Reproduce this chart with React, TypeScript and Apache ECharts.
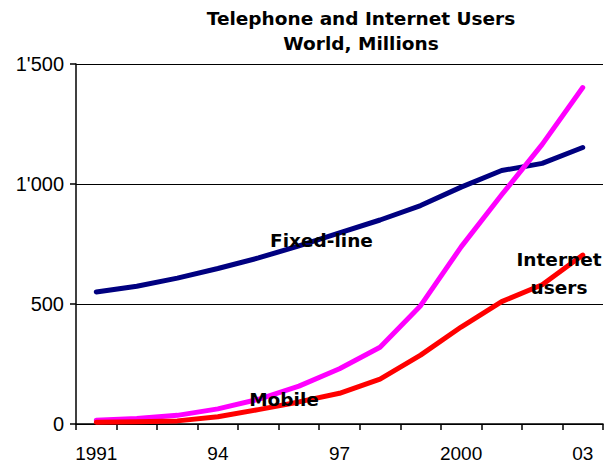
import React, { useEffect, useRef } from "react";
import * as echarts from "echarts";

const years = ["1991", "1992", "1993", "1994", "1995", "1996", "1997", "1998", "1999", "2000", "2001", "2002", "2003"];
const xTickLabels = ["1991", "", "", "94", "", "", "97", "", "", "2000", "", "", "03"];
const fixedLine = [550, 574, 608, 648, 692, 742, 796, 850, 910, 987, 1056, 1086, 1152];
const mobile = [16, 23, 36, 63, 103, 158, 230, 320, 493, 738, 955, 1165, 1402];
const internetUsers = [7, 9, 13, 30, 60, 92, 128, 187, 287, 404, 510, 580, 704];
const yTickValues = [0, 500, 1000, 1500];
const yTickLabels = ["0", "500", "1'000", "1'500"];
const titleText = "Telephone and Internet Users\nWorld, Millions";
const seriesNames = ["Fixed-line", "Mobile", "Internet users"];

export default function App() {
  const ref = useRef<HTMLDivElement>(null);
  useEffect(() => {
    if (!ref.current) return;
    const chart = echarts.init(ref.current, null, { renderer: "svg" });
    const boldText = { fontFamily: "DejaVu Sans", fontWeight: "bold", fontSize: 18.5, fill: "#000" };
    chart.setOption({
      animation: false,
      backgroundColor: "#fff",
      title: {
        text: titleText,
        left: 361,
        top: 6,
        padding: 0,
        textAlign: "center",
        textStyle: { fontFamily: "DejaVu Sans", fontWeight: "bold", fontSize: 18.5, lineHeight: 25, color: "#000" },
      },
      grid: { left: 76, right: 8, top: 64, bottom: 44, containLabel: false },
      xAxis: {
        type: "category",
        data: years,
        boundaryGap: true,
        axisLine: { lineStyle: { color: "#000", width: 1.5 } },
        axisTick: { show: true, interval: 0, length: 6, lineStyle: { color: "#000", width: 1.5 } },
        axisLabel: {
          interval: 0,
          formatter: (_v: string, i: number) => xTickLabels[i],
          fontFamily: "Arial, Liberation Sans",
          fontSize: 19,
          color: "#000",
          margin: 20,
        },
        splitLine: { show: false },
      },
      yAxis: {
        type: "value",
        min: 0,
        max: 1500,
        interval: 500,
        axisLine: { show: true, lineStyle: { color: "#000", width: 1.5 } },
        axisTick: { show: true, length: 6, lineStyle: { color: "#000", width: 1.5 } },
        axisLabel: {
          formatter: (v: number) => yTickLabels[yTickValues.indexOf(v)],
          fontFamily: "Arial, Liberation Sans",
          fontSize: 20,
          color: "#000",
          margin: 12,
        },
        splitLine: { show: true, lineStyle: { color: "#000", width: 1 } },
      },
      series: [
        { name: seriesNames[0], data: fixedLine, color: "#000080" },
        { name: seriesNames[1], data: mobile, color: "#FF00FF" },
        { name: seriesNames[2], data: internetUsers, color: "#FF0000" },
      ].map((s) => ({
        type: "line",
        name: s.name,
        data: s.data,
        symbol: "none",
        smooth: false,
        lineStyle: { color: s.color, width: 5, cap: "round", join: "round" },
      })),
      graphic: [
        { type: "text", x: 321.5, y: 240, z: 100, style: { ...boldText, text: "Fixed-line", align: "center", verticalAlign: "middle" } },
        { type: "text", x: 284, y: 399, z: 100, style: { ...boldText, text: "Mobile", align: "center", verticalAlign: "middle" } },
        { type: "text", x: 559, y: 273, z: 100, style: { ...boldText, text: "Internet\nusers", lineHeight: 28, align: "center", verticalAlign: "middle" } },
      ],
    });
    return () => chart.dispose();
  }, []);
  return <div ref={ref} style={{ position: "fixed", left: 0, top: 0, width: 611, height: 468 }} />;
}
